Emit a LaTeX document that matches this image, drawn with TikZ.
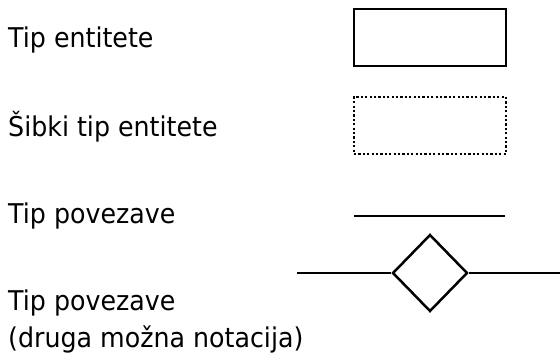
\documentclass[tikz,border=0pt]{standalone}
\usepackage{fontspec}
\setmainfont{DejaVu Sans}[FakeStretch=0.93]
\usetikzlibrary{shapes.geometric, positioning}

\begin{document}
\begin{tikzpicture}[
  x=1pt, y=-1pt,
  label/.style={anchor=base west, inner sep=0pt, align=left, font=\fontsize{27.2}{37.5}\selectfont},
  entbox/.style={rectangle, draw, line width=2.5pt, minimum width=152pt, minimum height=57pt, inner sep=0pt},
  weakbox/.style={entbox, line width=2.4pt, dash pattern=on 2.2pt off 2.2pt},
  reldiamond/.style={diamond, draw, line width=2.5pt, minimum width=75pt, minimum height=77pt, inner sep=0pt},
  link/.style={draw, line width=2.5pt}
  ]
\useasboundingbox (0,0) rectangle (560,361);

% Labels
\node[label] (lent) at (8,48) {Tip entitete};
\node[label] (lweak) at (8,136) {Šibki tip entitete};
\node[label] (lrel) at (8,223) {Tip povezave};
\node[label] (lrel2) at (8,347.5) {Tip povezave\\(druga možna notacija)};

% Shapes
\node[entbox] (ent) at (430,37.5) {};
\node[weakbox] (weak) at (430,125.5) {};
\coordinate (relA) at (354,216);
\coordinate (relB) at (505,216);
\node[reldiamond] (rel) at (430,273) {};
\coordinate (linkL) at (297,273);
\coordinate (linkR) at (560,273);

% Edges
\path[link] (relA) -- (relB);
\path[link] (linkL) -- (rel.west);
\path[link] (rel.east) -- (linkR);

\end{tikzpicture}
\end{document}
